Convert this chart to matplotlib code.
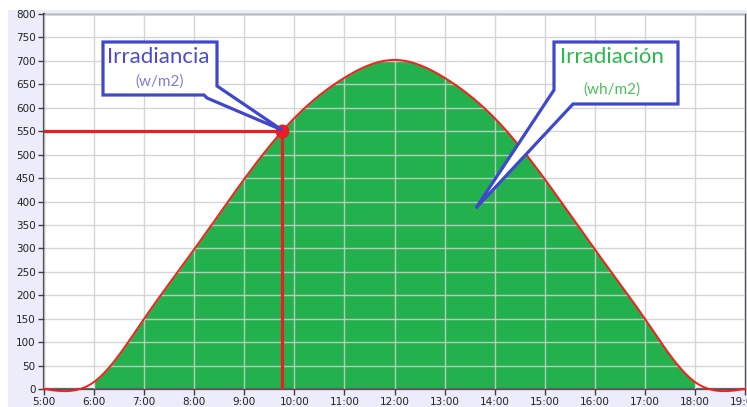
import numpy as np
import matplotlib.pyplot as plt
from matplotlib.patches import Rectangle, Polygon
from matplotlib.transforms import Affine2D

# hourly irradiance (w/m2)
hours = [5, 6, 7, 8, 9, 10, 11, 12, 13, 14, 15, 16, 17, 18, 19]
irr = [0, 15, 150, 298, 448, 578, 664, 702, 664, 578, 448, 298, 150, 15, 0]
hour_labels = ['%d:00' % h for h in hours]
y_ticks = list(range(0, 801, 50))

# marked point
mark_hour = 9.75
mark_val = 550

W, H = 747, 407


def natural_spline(x, y, n=600):
    # smooth curve through the hourly points, like the original control
    x = np.asarray(x, float)
    y = np.asarray(y, float)
    h = np.diff(x)
    k = len(x)
    A = np.zeros((k, k))
    r = np.zeros(k)
    A[0, 0] = A[-1, -1] = 1
    for i in range(1, k - 1):
        A[i, i - 1] = h[i - 1]
        A[i, i] = 2 * (h[i - 1] + h[i])
        A[i, i + 1] = h[i]
        r[i] = 6 * ((y[i + 1] - y[i]) / h[i] - (y[i] - y[i - 1]) / h[i - 1])
    M = np.linalg.solve(A, r)
    xs = np.linspace(x[0], x[-1], n)
    j = np.clip(np.searchsorted(x, xs) - 1, 0, k - 2)
    t0 = x[j + 1] - xs
    t1 = xs - x[j]
    hj = h[j]
    ys = (M[j] * t0 ** 3 + M[j + 1] * t1 ** 3) / (6 * hj) \
        + (y[j] / hj - M[j] * hj / 6) * t0 + (y[j + 1] / hj - M[j + 1] * hj / 6) * t1
    return xs, ys


fig = plt.figure(figsize=(W / 100, H / 100), dpi=100)
fig.patch.set_facecolor('white')

# pixel coordinates, origin at top-left
px = Affine2D().scale(1 / W, -1 / H).translate(0, 1) + fig.transFigure

fig.patches.append(Rectangle((8, 10), W - 8, H - 10, transform=px,
                             facecolor='#ECECFA', edgecolor='none', zorder=-5))

ax = fig.add_axes([44 / W, 18 / H, 701 / W, 375 / H])
ax.set_facecolor('white')

xs, ys = natural_spline(hours, irr)
ax.fill_between(xs, ys, 0, where=(xs >= 6) & (xs <= 18), color='#22B14C',
                linewidth=0, zorder=1)
ax.grid(True, color='#cfcfcf', linewidth=1, alpha=0.85, zorder=2)
ax.set_axisbelow(False)
ax.plot(xs, ys, color='#FF1A1A', linewidth=1.4, zorder=3, clip_on=False)

ax.plot([hours[0], mark_hour], [mark_val, mark_val], color='#EE1C25', linewidth=2.3, zorder=4)
ax.plot([mark_hour, mark_hour], [0, mark_val], color='#EE1C25', linewidth=2.3, zorder=4)
ax.plot([mark_hour], [mark_val], 'o', color='#EE1C25', markersize=9, zorder=5)

ax.set_xlim(5, 19)
ax.set_ylim(0, 800)
ax.set_xticks(hours)
ax.set_xticklabels(hour_labels)
ax.set_yticks(y_ticks)
ax.tick_params(labelsize=7.5, length=4, width=1, color='#404040', pad=2)
for s in ax.spines.values():
    s.set_color('#505050')
    s.set_linewidth(1)
ax.spines['left'].set_linewidth(1.6)
ax.spines['bottom'].set_linewidth(1.6)
for lab in ax.get_xticklabels() + ax.get_yticklabels():
    lab.set_color('#222222')

# callout boxes
blue = '#3F48CC'
box1 = Polygon([(103, 42), (217, 42), (217, 86), (282, 130), (207, 98),
                (204, 95), (103, 95)], closed=True, transform=px,
               facecolor='white', edgecolor=blue, linewidth=2.3, zorder=10)
box2 = Polygon([(554, 42), (678, 42), (678, 104), (573, 104), (476, 208),
                (554, 90)], closed=True, transform=px,
               facecolor='white', edgecolor=blue, linewidth=2.3, zorder=10)
fig.patches.extend([box1, box2])

fig.text(158, 57, 'Irradiancia', transform=px, ha='center', va='center',
         fontsize=16, family='Lato', color='#4B4BD2', zorder=11)
fig.text(160, 82, '(w/m2)', transform=px, ha='center', va='center',
         fontsize=11, family='Lato', color='#7C7CE0', zorder=11)
fig.text(612, 57, 'Irradiación', transform=px, ha='center', va='center',
         fontsize=16, family='Lato', color='#2DB84D', zorder=11)
fig.text(612, 90, '(wh/m2)', transform=px, ha='center', va='center',
         fontsize=11, family='Lato', color='#4CBE5C', zorder=11)

fig.savefig('out.png', dpi=100)
